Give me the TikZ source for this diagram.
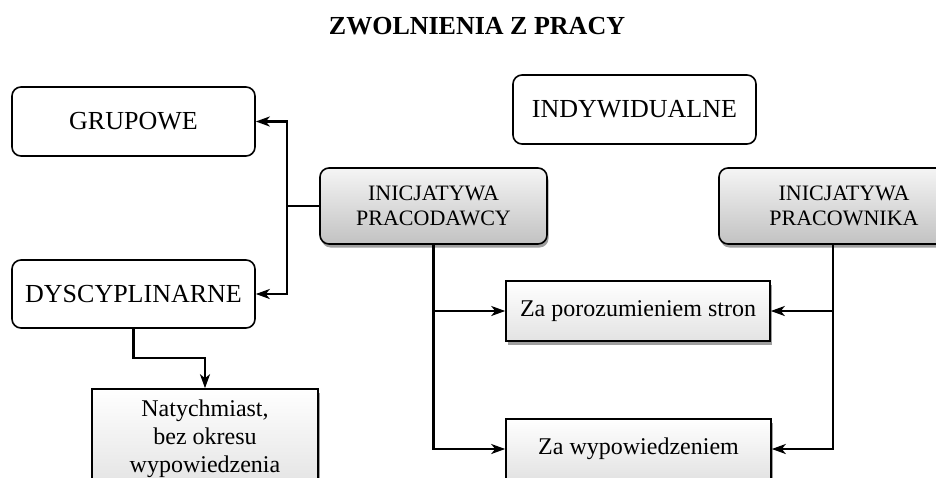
\documentclass[tikz,border=0pt]{standalone}
\usepackage{fontspec}
\setmainfont{Liberation Serif}
\usepackage{tikz}
\usetikzlibrary{positioning,arrows.meta,shapes,shadows}

\tikzset{
  roundbox/.style={draw, line width=1.6pt, rounded corners=9pt, fill=white,
    inner sep=0pt, font=\fontsize{26}{28}\selectfont},
  initbox/.style={draw, line width=1.6pt, rounded corners=9pt, align=center,
    top color=gray!8, bottom color=gray!48, inner sep=0pt,
    drop shadow={shadow xshift=1.5pt, shadow yshift=-3.5pt, fill=gray!75, opacity=1},
    font=\fontsize{22}{25}\selectfont},
  waybox/.style={draw, line width=1.6pt, align=center,
    top color=white, bottom color=gray!22, inner sep=0pt,
    drop shadow={shadow xshift=1.5pt, shadow yshift=-3.5pt, fill=gray!75, opacity=1},
    font=\fontsize{24}{28}\selectfont},
  link/.style={line width=2.2pt, -{Stealth[length=14pt, width=10pt, inset=4pt]}}
}

\begin{document}
\begin{tikzpicture}[x=1pt,y=-1pt]
\useasboundingbox (0,0) rectangle (936,477);
\node[font=\bfseries\fontsize{26}{28}\selectfont] (title) at (477,26) {ZWOLNIENIA Z PRACY};

% rodzaje
\node[roundbox, minimum width=243pt, minimum height=69pt] (grupowe) at (133.5,121.5) {GRUPOWE};
\node[roundbox, minimum width=243pt, minimum height=69pt] (indyw) at (634.5,109.5) {INDYWIDUALNE};
\node[roundbox, minimum width=243pt, minimum height=68pt] (dyscypl) at (133.5,294) {DYSCYPLINARNE};

% inicjatywa
\node[initbox, minimum width=227pt, minimum height=76pt] (pracodawcy) at (433.5,206) {INICJATYWA\\PRACODAWCY};
\node[initbox, minimum width=250pt, minimum height=76pt] (pracownika) at (844,206) {INICJATYWA\\PRACOWNIKA};

% tryby
\node[waybox, minimum width=264pt, minimum height=60pt] (porozum) at (638,311) {Za porozumieniem stron};
\node[waybox, minimum width=265pt, minimum height=60pt] (wypow) at (638.5,449) {Za wypowiedzeniem};
\node[waybox, minimum width=226pt, minimum height=100pt] (natych) at (205,439) {Natychmiast,\\bez okresu\\wypowiedzenia};

\coordinate (pwdown) at ([xshift=-11pt]pracownika.south);

\draw[link] (pracodawcy.west) -- ++(-32,0) |- (grupowe.east);
\draw[link] (pracodawcy.west) -- ++(-32,0) |- (dyscypl.east);
\draw[link] (pracodawcy.south) |- (porozum.west);
\draw[link] (pracodawcy.south) |- (wypow.west);
\draw[link] (pwdown) |- (porozum.east);
\draw[link] (pwdown) |- (wypow.east);
\draw[link] (dyscypl.south) -- ++(0,29) -| (natych.north);
\end{tikzpicture}
\end{document}
